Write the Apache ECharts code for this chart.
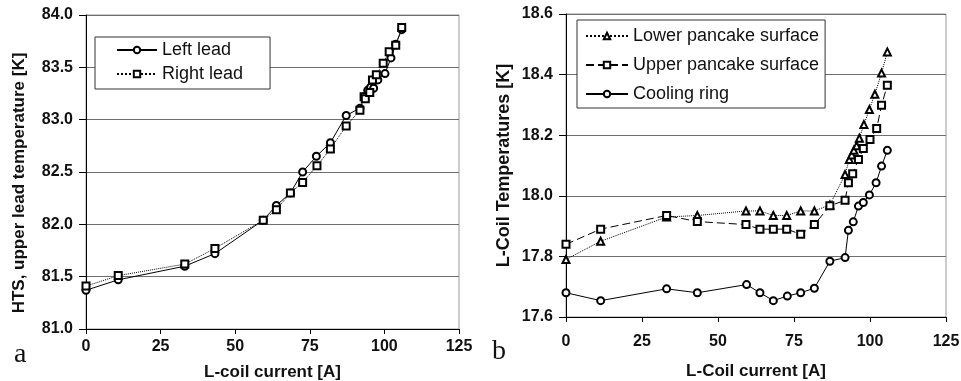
<!DOCTYPE html>
<html>
<head>
<meta charset="utf-8">
<script src="https://cdn.jsdelivr.net/npm/echarts@6/dist/echarts.min.js"></script>
<style>
  html, body { margin: 0; padding: 0; background: #fff; }
  #chart { width: 961px; height: 381px; }
</style>
</head>
<body>
<div id="chart"></div>
<script>
// panel a: HTS upper lead temperature vs L-coil current
const leftLeadX = [0, 10.8, 33.1, 43.2, 59.4, 63.8, 68.5, 72.6, 77.2, 81.9, 87.2, 91.8, 93.4, 94.4, 95.4, 96.4, 97.8, 100.2, 102.2, 103.8, 105.8];
const leftLeadY = [81.37, 81.47, 81.60, 81.72, 82.04, 82.18, 82.30, 82.50, 82.65, 82.78, 83.04, 83.11, 83.22, 83.28, 83.31, 83.30, 83.38, 83.44, 83.59, 83.72, 83.86];
const rightLeadX = [0, 10.8, 33.1, 43.2, 59.4, 63.8, 68.5, 72.6, 77.4, 81.9, 87.2, 91.8, 93.2, 93.6, 95.1, 96.0, 97.3, 99.6, 101.6, 103.8, 105.8];
const rightLeadY = [81.41, 81.51, 81.62, 81.77, 82.04, 82.14, 82.30, 82.40, 82.56, 82.72, 82.94, 83.09, 83.22, 83.20, 83.26, 83.38, 83.43, 83.54, 83.65, 83.71, 83.88];

// panel b: L-coil temperatures
const lowerX = [0, 11.4, 33.1, 43.2, 59.2, 63.8, 68.2, 72.6, 77.2, 81.7, 86.8, 91.8, 93.2, 94.0, 94.7, 95.6, 96.5, 98.0, 99.8, 101.6, 103.8, 105.7];
const lowerY = [17.79, 17.85, 17.93, 17.935, 17.95, 17.95, 17.935, 17.935, 17.95, 17.95, 17.97, 18.07, 18.12, 18.135, 18.15, 18.165, 18.19, 18.235, 18.285, 18.335, 18.405, 18.475];
const upperX = [0, 11.4, 33.1, 43.2, 59.2, 63.8, 68.2, 72.6, 77.2, 81.7, 86.8, 91.8, 92.9, 94.3, 96.2, 97.8, 100.0, 102.2, 103.8, 105.7];
const upperY = [17.84, 17.89, 17.935, 17.915, 17.905, 17.89, 17.89, 17.89, 17.873, 17.905, 17.967, 17.985, 18.043, 18.073, 18.12, 18.156, 18.186, 18.222, 18.299, 18.365];
const coolX = [0, 11.4, 33.1, 43.2, 59.4, 63.8, 68.2, 72.8, 77.2, 81.7, 86.8, 91.8, 92.9, 94.5, 96.2, 97.8, 99.8, 102.0, 103.8, 105.7];
const coolY = [17.68, 17.654, 17.693, 17.68, 17.707, 17.68, 17.654, 17.669, 17.68, 17.695, 17.784, 17.796, 17.886, 17.914, 17.966, 17.978, 18.003, 18.043, 18.098, 18.15];

const xTicks = [0, 25, 50, 75, 100, 125];

const font = 'Liberation Sans, Arial, sans-serif';
const zip = (xs, ys) => xs.map((x, i) => [x, ys[i]]);

const chart = echarts.init(document.getElementById('chart'), null, { renderer: 'canvas' });

function xAxisFor(gridIndex, name, labelMargin, nameGap) {
  return {
    type: 'value', gridIndex, min: xTicks[0], max: xTicks[xTicks.length - 1], interval: 25,
    name, nameLocation: 'middle', nameGap,
    nameTextStyle: { fontFamily: font, fontWeight: 'bold', fontSize: 17, color: '#111' },
    axisLine: { lineStyle: { color: '#000', width: 1 } },
    axisTick: { show: true, length: 5, lineStyle: { color: '#000' } },
    axisLabel: { color: '#111', fontFamily: font, fontWeight: 'bold', fontSize: 16, margin: labelMargin },
    splitLine: { show: false },
  };
}

function yAxisFor(gridIndex, name, min, max, interval, nameGap, nameSize, namePad) {
  return {
    type: 'value', gridIndex, min, max, interval,
    name, nameLocation: 'middle', nameGap,
    nameTextStyle: { fontFamily: font, fontWeight: 'bold', fontSize: nameSize, color: '#111', padding: namePad },
    axisLine: { show: true, lineStyle: { color: '#000', width: 1 } },
    axisTick: { show: true, length: 7, lineStyle: { color: '#000' } },
    axisLabel: {
      color: '#111', fontFamily: font, fontWeight: 'bold', fontSize: 16, margin: 13,
      formatter: (v) => v.toFixed(1),
    },
    splitLine: { show: true, lineStyle: { color: '#6f6f6f', width: 1 } },
  };
}

function line(name, data, xAxisIndex, yAxisIndex, symbol, type) {
  return {
    name, type: 'line', data, xAxisIndex, yAxisIndex,
    symbol, symbolSize: 7,
    lineStyle: { color: '#000', width: 1, type },
    itemStyle: { color: '#000', borderColor: '#000', borderWidth: 1 },
    animation: false,
  };
}

chart.setOption({
  backgroundColor: '#fff',
  animation: false,
  title: [
    { text: 'a', left: 9, top: 336, textStyle: { fontFamily: 'Liberation Serif, serif', fontSize: 28, fontWeight: 'normal', color: '#111' } },
    { text: 'b', left: 487, top: 333, textStyle: { fontFamily: 'Liberation Serif, serif', fontSize: 28, fontWeight: 'normal', color: '#111' } },
  ],
  grid: [
    { left: 86, top: 15, width: 373, height: 314, outerBoundsMode: 'none', show: true, borderColor: '#999', borderWidth: 1 },
    { left: 566, top: 14, width: 380, height: 303, outerBoundsMode: 'none', show: true, borderColor: '#999', borderWidth: 1 },
  ],
  xAxis: [
    xAxisFor(0, 'L-coil current [A]', 10, 35),
    xAxisFor(1, 'L-Coil current [A]', 17, 46),
  ],
  yAxis: [
    yAxisFor(0, 'HTS, upper lead temperature [K]', 81, 84, 0.5, 58, 17, [0, 22, 0, 0]),
    yAxisFor(1, 'L-Coil Temperatures [K]', 17.6, 18.6, 0.2, 53, 18, [0, 0, 0, 0]),
  ],
  legend: [
    {
      data: ['Left lead', 'Right lead'], orient: 'vertical', left: 95, top: 37,
      itemWidth: 40, itemHeight: 8, itemGap: 6,
      padding: [4, 27, 6, 21], borderColor: '#333', borderWidth: 1, backgroundColor: '#fff',
      textStyle: { fontFamily: font, fontSize: 18, color: '#111' },
    },
    {
      data: ['Lower pancake surface', 'Upper pancake surface', 'Cooling ring'], orient: 'vertical', left: 577, top: 20,
      itemWidth: 42, itemHeight: 8, itemGap: 11,
      padding: [7, 6, 5, 8], borderColor: '#333', borderWidth: 1, backgroundColor: '#fff',
      textStyle: { fontFamily: font, fontSize: 18, color: '#111' },
    },
  ],
  series: [
    line('Left lead', zip(leftLeadX, leftLeadY), 0, 0, 'emptyCircle', 'solid'),
    line('Right lead', zip(rightLeadX, rightLeadY), 0, 0, 'emptyRect', 'dotted'),
    line('Lower pancake surface', zip(lowerX, lowerY), 1, 1, 'emptyTriangle', 'dotted'),
    line('Upper pancake surface', zip(upperX, upperY), 1, 1, 'emptyRect', [8, 4]),
    line('Cooling ring', zip(coolX, coolY), 1, 1, 'emptyCircle', 'solid'),
  ],
});
</script>
</body>
</html>
